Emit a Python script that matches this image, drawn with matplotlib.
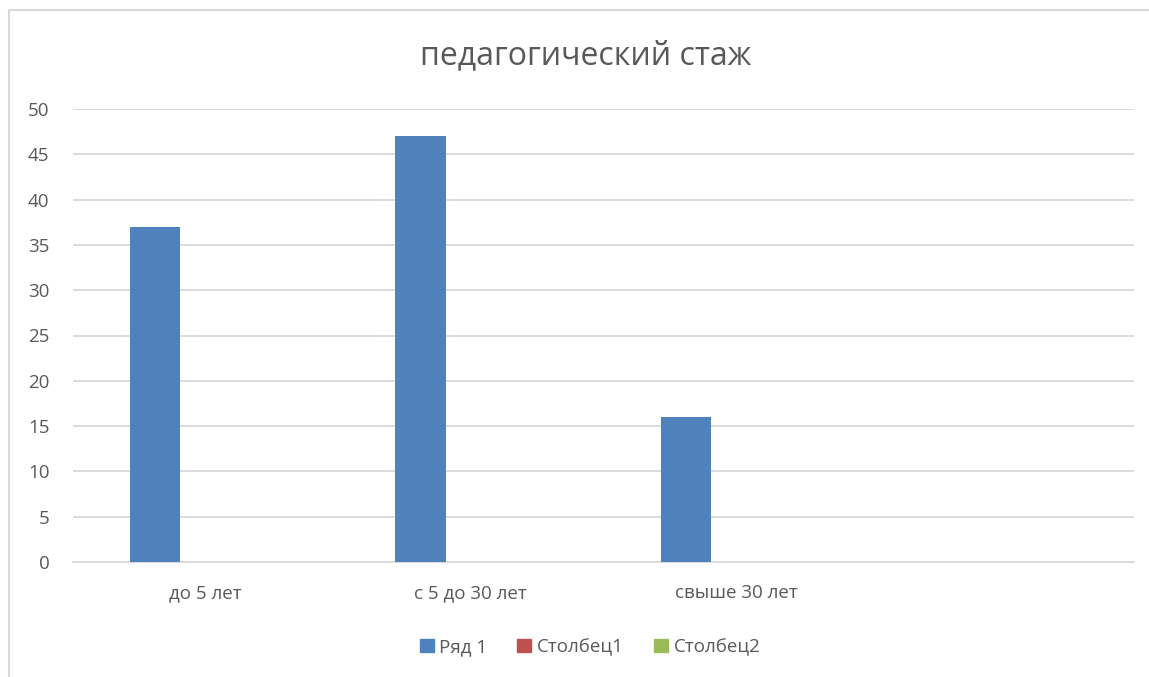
import matplotlib.pyplot as plt
from matplotlib.patches import Rectangle, Patch
import numpy as np

plt.rcParams["font.family"] = ["Open Sans", "DejaVu Sans"]

categories = ["до 5 лет", "с 5 до 30 лет", "свыше 30 лет", ""]
series_names = ["Ряд 1", "Столбец1", "Столбец2"]
series_values = [
    [37, 47, 16, 0],
    [0, 0, 0, 0],
    [0, 0, 0, 0],
]
colors = ["#4F81BD", "#C0504D", "#9BBB59"]
text_color = "#595959"
grid_color = "#D9D9D9"

fig = plt.figure(figsize=(11.49, 6.77), dpi=100)
# chart border (only top and left edges visible in the crop)
fig.patches.append(
    Rectangle((9 / 1149, -0.1), 1.2, 1.1 - 10 / 677, transform=fig.transFigure,
              fill=False, edgecolor="#D9D9D9", linewidth=1.5)
)

ax = fig.add_axes([73 / 1149, 1 - 562 / 677, (1134 - 73) / 1149, (562 - 109) / 677])
x = np.arange(len(categories))
w = 0.19
for i, (name, vals) in enumerate(zip(series_names, series_values)):
    ax.bar(x + (i - 1) * w, vals, width=w, color=colors[i], label=name, zorder=3)

ax.set_xlim(-0.5, len(categories) - 0.5)
ax.set_ylim(0, 50)
ax.set_yticks(range(0, 51, 5))
ax.set_xticks(x)
ax.set_xticklabels(categories)
ax.yaxis.grid(True, color=grid_color, linewidth=1.3, zorder=0)
for s in ["top", "right", "left"]:
    ax.spines[s].set_visible(False)
ax.spines["bottom"].set_color(grid_color)
ax.spines["bottom"].set_linewidth(1.3)
ax.tick_params(axis="both", length=0, labelsize=13.5, colors=text_color)
ax.tick_params(axis="x", pad=16)
ax.tick_params(axis="y", pad=17)

fig.text(586 / 1149, 1 - 56 / 677, "педагогический стаж", ha="center", va="center",
         fontsize=23, color=text_color)

handles = [Patch(color=c) for c in colors]
fig.legend(handles, series_names, loc="center", bbox_to_anchor=(590 / 1149, 1 - 647 / 677),
           ncol=3, frameon=False, fontsize=13.5, labelcolor=text_color,
           handlelength=0.75, handleheight=0.75, handletextpad=0.3, columnspacing=1.6)

fig.savefig("out.png", dpi=100)
